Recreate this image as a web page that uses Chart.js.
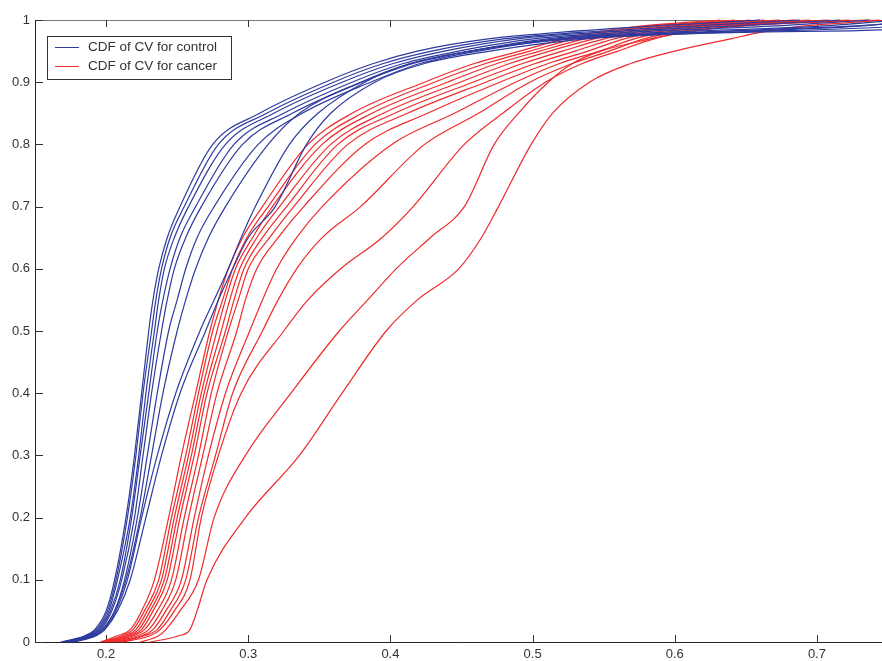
<!DOCTYPE html>
<html>
<head>
<meta charset="utf-8">
<script src="https://cdn.jsdelivr.net/npm/chart.js@4/dist/chart.umd.min.js"></script>
<style>
  html, body { margin: 0; padding: 0; background: #fff; overflow: hidden; }
  #wrap { width: 900px; height: 661px; }
</style>
</head>
<body>
<div id="wrap"><canvas id="cdf" width="900" height="661"></canvas></div>
<script>
// CDF levels shared by all curves (y values)
const levels = [0, 0.01, 0.02, 0.05, 0.1, 0.2, 0.3, 0.4, 0.5, 0.55, 0.6, 0.65, 0.7, 0.8, 0.85, 0.9, 0.93, 0.95, 0.97, 0.98, 0.99, 1];

// CV value where each control curve reaches each level
const control1 = [0.168, 0.185, 0.192, 0.200, 0.206, 0.214, 0.220, 0.225, 0.230, 0.233, 0.237, 0.243, 0.252, 0.275, 0.308, 0.354, 0.388, 0.419, 0.470, 0.519, 0.583, 0.660];
const control2 = [0.169, 0.186, 0.193, 0.201, 0.207, 0.215, 0.221, 0.226, 0.232, 0.235, 0.239, 0.245, 0.255, 0.279, 0.313, 0.360, 0.395, 0.429, 0.481, 0.533, 0.611, 0.688];
const control3 = [0.170, 0.187, 0.194, 0.202, 0.208, 0.217, 0.223, 0.228, 0.234, 0.237, 0.241, 0.248, 0.258, 0.284, 0.318, 0.366, 0.402, 0.438, 0.491, 0.547, 0.639, 0.716];
const control4 = [0.172, 0.188, 0.195, 0.203, 0.210, 0.218, 0.224, 0.230, 0.236, 0.240, 0.245, 0.252, 0.263, 0.290, 0.325, 0.373, 0.409, 0.448, 0.502, 0.565, 0.667, 0.737];
const control5 = [0.173, 0.189, 0.196, 0.204, 0.211, 0.220, 0.226, 0.232, 0.239, 0.243, 0.248, 0.256, 0.267, 0.296, 0.331, 0.380, 0.416, 0.456, 0.512, 0.590, 0.702, 0.758];
const control6 = [0.175, 0.190, 0.197, 0.206, 0.213, 0.222, 0.229, 0.236, 0.244, 0.250, 0.256, 0.264, 0.276, 0.307, 0.338, 0.386, 0.421, 0.462, 0.523, 0.618, 0.730, 0.772];
const control7 = [0.175, 0.191, 0.198, 0.206, 0.214, 0.224, 0.232, 0.240, 0.250, 0.256, 0.263, 0.272, 0.284, 0.314, 0.336, 0.379, 0.414, 0.456, 0.519, 0.611, 0.723, 0.786];
const control8 = [0.176, 0.192, 0.199, 0.207, 0.215, 0.225, 0.236, 0.249, 0.266, 0.276, 0.286, 0.295, 0.305, 0.329, 0.349, 0.382, 0.414, 0.456, 0.530, 0.632, 0.758, 0.801];
const control9 = [0.178, 0.193, 0.199, 0.208, 0.217, 0.228, 0.239, 0.252, 0.270, 0.279, 0.289, 0.300, 0.319, 0.341, 0.358, 0.389, 0.424, 0.470, 0.540, 0.646, 0.794, 0.815];

// CV value where each cancer curve reaches each level
const cancer1  = [0.196, 0.208, 0.217, 0.225, 0.234, 0.244, 0.253, 0.263, 0.273, 0.279, 0.286, 0.296, 0.310, 0.342, 0.373, 0.424, 0.459, 0.491, 0.523, 0.544, 0.576, 0.632];
const cancer2  = [0.197, 0.211, 0.219, 0.227, 0.237, 0.246, 0.256, 0.265, 0.275, 0.282, 0.289, 0.299, 0.314, 0.347, 0.380, 0.431, 0.467, 0.498, 0.530, 0.551, 0.583, 0.642];
const cancer3  = [0.199, 0.213, 0.221, 0.229, 0.239, 0.248, 0.258, 0.267, 0.278, 0.284, 0.291, 0.303, 0.317, 0.352, 0.387, 0.440, 0.475, 0.505, 0.537, 0.558, 0.590, 0.653];
const cancer4  = [0.200, 0.215, 0.223, 0.231, 0.241, 0.250, 0.260, 0.269, 0.281, 0.287, 0.294, 0.306, 0.322, 0.358, 0.395, 0.449, 0.484, 0.512, 0.544, 0.565, 0.597, 0.663];
const cancer5  = [0.201, 0.217, 0.225, 0.233, 0.243, 0.252, 0.262, 0.271, 0.284, 0.290, 0.297, 0.310, 0.327, 0.363, 0.403, 0.458, 0.493, 0.521, 0.551, 0.572, 0.604, 0.674];
const cancer6  = [0.203, 0.219, 0.227, 0.236, 0.246, 0.255, 0.265, 0.274, 0.286, 0.293, 0.300, 0.315, 0.332, 0.370, 0.412, 0.467, 0.502, 0.530, 0.558, 0.579, 0.611, 0.685];
const cancer7  = [0.205, 0.222, 0.230, 0.239, 0.249, 0.258, 0.268, 0.278, 0.292, 0.298, 0.306, 0.321, 0.339, 0.382, 0.426, 0.477, 0.511, 0.539, 0.565, 0.586, 0.618, 0.695];
const cancer8  = [0.207, 0.225, 0.233, 0.242, 0.253, 0.262, 0.272, 0.284, 0.301, 0.310, 0.320, 0.334, 0.352, 0.401, 0.445, 0.488, 0.519, 0.547, 0.572, 0.593, 0.625, 0.709];
const cancer9  = [0.209, 0.227, 0.236, 0.245, 0.256, 0.265, 0.277, 0.289, 0.310, 0.321, 0.334, 0.352, 0.379, 0.424, 0.462, 0.498, 0.528, 0.554, 0.579, 0.600, 0.632, 0.723];
const cancer10 = [0.211, 0.231, 0.238, 0.248, 0.259, 0.267, 0.279, 0.295, 0.325, 0.342, 0.365, 0.394, 0.416, 0.452, 0.479, 0.509, 0.535, 0.560, 0.586, 0.607, 0.642, 0.737];
const cancer11 = [0.224, 0.237, 0.242, 0.252, 0.265, 0.276, 0.298, 0.330, 0.364, 0.384, 0.404, 0.428, 0.452, 0.473, 0.490, 0.511, 0.528, 0.548, 0.584, 0.606, 0.645, 0.744];
const cancer12 = [0.231, 0.251, 0.259, 0.264, 0.271, 0.298, 0.336, 0.366, 0.397, 0.419, 0.448, 0.464, 0.476, 0.499, 0.514, 0.540, 0.569, 0.600, 0.640, 0.660, 0.690, 0.751];

const controlCurves = [control1, control2, control3, control4, control5, control6, control7, control8, control9];
const cancerCurves = [cancer1, cancer2, cancer3, cancer4, cancer5, cancer6, cancer7, cancer8, cancer9, cancer10, cancer11, cancer12];

const seriesNames = ['CDF of CV for control', 'CDF of CV for cancer'];
const xTicks = [0.2, 0.3, 0.4, 0.5, 0.6, 0.7];
const yTicks = [0, 0.1, 0.2, 0.3, 0.4, 0.5, 0.6, 0.7, 0.8, 0.9, 1];

const BLUE = '#2e3b9e';
const RED = '#ef2a2a';
const FONT = '"Liberation Sans", Arial, sans-serif';

function toPoints(xs) {
  return xs.map((x, i) => ({ x: x, y: levels[i] }));
}

const datasets = [];
controlCurves.forEach(c => datasets.push({ data: toPoints(c), borderColor: BLUE }));
cancerCurves.forEach(c => datasets.push({ data: toPoints(c), borderColor: RED }));
datasets.forEach(d => {
  d.showLine = true; d.pointRadius = 0; d.borderWidth = 1.2;
  d.cubicInterpolationMode = 'monotone'; d.clip = 3;
});

// axes frame + inward ticks under the curves, legend box on top
const framePlugin = {
  id: 'frame',
  beforeDatasetsDraw(chart) {
    const { ctx, chartArea: a, scales } = chart;
    ctx.save();
    ctx.lineWidth = 1;
    ctx.strokeStyle = '#777';
    ctx.beginPath(); ctx.moveTo(a.left, a.top + 0.5); ctx.lineTo(a.right, a.top + 0.5); ctx.stroke();
    ctx.strokeStyle = '#222';
    ctx.beginPath();
    ctx.moveTo(a.left + 0.5, a.top); ctx.lineTo(a.left + 0.5, a.bottom + 0.5);
    ctx.lineTo(a.right, a.bottom + 0.5);
    ctx.stroke();
    ctx.strokeStyle = '#333';
    ctx.beginPath();
    xTicks.forEach(v => {
      const px = Math.round(scales.x.getPixelForValue(v)) + 0.5;
      ctx.moveTo(px, a.bottom); ctx.lineTo(px, a.bottom - 7);
      ctx.moveTo(px, a.top); ctx.lineTo(px, a.top + 7);
    });
    yTicks.forEach(v => {
      const py = Math.round(scales.y.getPixelForValue(v)) + 0.5;
      ctx.moveTo(a.left, py); ctx.lineTo(a.left + 8, py);
    });
    ctx.stroke();
    ctx.restore();
  },
  afterDraw(chart) {
    const { ctx, chartArea: a } = chart;
    const bx = a.left + 12, by = a.top + 16, bw = 184, bh = 43;
    ctx.save();
    ctx.fillStyle = '#fff';
    ctx.fillRect(bx, by, bw, bh);
    ctx.strokeStyle = '#333';
    ctx.lineWidth = 1;
    ctx.strokeRect(bx + 0.5, by + 0.5, bw, bh);
    ctx.font = '13.5px ' + FONT;
    ctx.textBaseline = 'middle';
    [BLUE, RED].forEach((col, i) => {
      const ly = by + 11.5 + i * 19;
      ctx.strokeStyle = col;
      ctx.beginPath(); ctx.moveTo(bx + 8, ly); ctx.lineTo(bx + 32, ly); ctx.stroke();
      ctx.fillStyle = '#333';
      ctx.fillText(seriesNames[i], bx + 41, ly);
    });
    ctx.restore();
  }
};

new Chart(document.getElementById('cdf'), {
  type: 'scatter',
  data: { datasets },
  options: {
    responsive: false,
    animation: false,
    layout: { padding: { top: 20, right: 12, left: 0, bottom: 0 } },
    plugins: { legend: { display: false }, tooltip: { enabled: false } },
    scales: {
      x: {
        type: 'linear', min: 0.15, max: 0.75,
        afterBuildTicks: s => { s.ticks = xTicks.map(v => ({ value: v })); },
        afterFit: s => { s.height = 19; },
        grid: { display: false, drawTicks: false },
        border: { display: false },
        ticks: { padding: 5, color: '#333', font: { size: 13, family: FONT }, maxRotation: 0, callback: v => String(v) }
      },
      y: {
        type: 'linear', min: 0, max: 1,
        afterBuildTicks: s => { s.ticks = yTicks.map(v => ({ value: v })); },
        afterFit: s => { s.width = 35; },
        grid: { display: false, drawTicks: false },
        border: { display: false },
        ticks: { padding: 5, color: '#333', font: { size: 13, family: FONT }, callback: v => String(v) }
      }
    }
  },
  plugins: [framePlugin]
});
</script>
</body>
</html>
